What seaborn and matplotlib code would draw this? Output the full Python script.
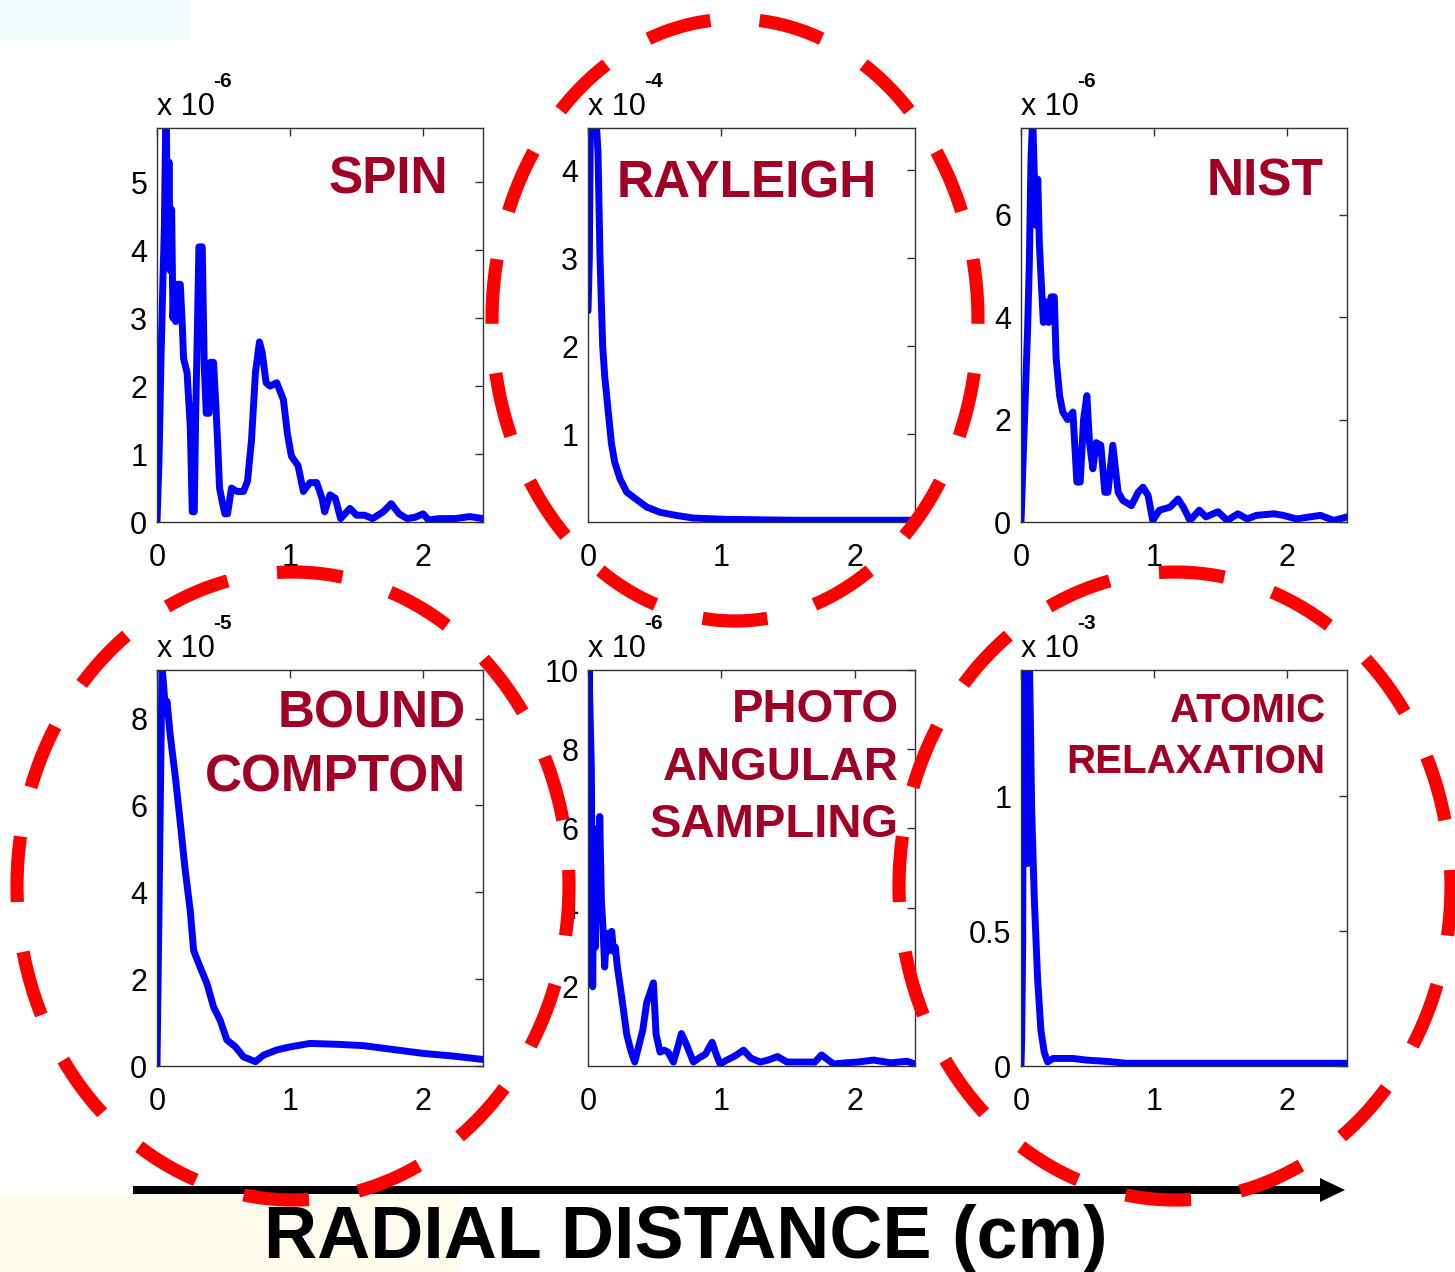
import numpy as np
import pandas as pd
import matplotlib
matplotlib.use("Agg")
import matplotlib.pyplot as plt
import seaborn as sns
from matplotlib.patches import Rectangle, FancyArrow

# ---------------- data (scaled by 10^exponent) -------------
x_spin = [0.0, 0.015, 0.03, 0.045, 0.055, 0.065, 0.07, 0.08, 0.09, 0.1, 0.11, 0.12, 0.13, 0.14, 0.155, 0.175,
          0.19, 0.2, 0.226, 0.25, 0.265, 0.28, 0.29, 0.305, 0.315, 0.34, 0.355, 0.37, 0.39, 0.40, 0.425, 0.44,
          0.455, 0.47, 0.49, 0.51, 0.53, 0.56, 0.6, 0.65, 0.68, 0.71, 0.74, 0.77, 0.79, 0.82, 0.85, 0.9, 0.95,
          0.98, 1.01, 1.06, 1.1, 1.15, 1.2, 1.24, 1.26, 1.3, 1.34, 1.38, 1.45, 1.5, 1.56, 1.62, 1.7, 1.76, 1.82,
          1.88, 1.94, 2.0, 2.04, 2.12, 2.24, 2.35, 2.45]
y_spin = [0.0, 0.9, 2.4, 3.6, 4.3, 5.8, 5.9, 3.8, 5.3, 3.7, 4.6, 3.0, 3.5, 2.95, 3.5, 3.5,
          2.9, 2.4, 2.2, 1.4, 0.15, 0.15, 1.5, 3.0, 4.05, 4.05, 2.3, 1.6, 1.6, 2.35, 2.35, 1.8,
          1.2, 0.5, 0.3, 0.12, 0.12, 0.5, 0.45, 0.45, 0.6, 1.2, 2.2, 2.65, 2.5, 2.05, 2.0, 2.05, 1.8,
          1.3, 0.97, 0.83, 0.45, 0.58, 0.58, 0.35, 0.15, 0.4, 0.35, 0.05, 0.2, 0.1, 0.1, 0.05, 0.15, 0.27, 0.12,
          0.05, 0.07, 0.12, 0.03, 0.05, 0.05, 0.08, 0.05]

x_rayleigh = [0.0, 0.01, 0.02, 0.04, 0.06, 0.075, 0.09, 0.1, 0.11, 0.125, 0.15, 0.175, 0.2, 0.24, 0.29,
              0.36, 0.44, 0.54, 0.66, 0.79, 1.04, 1.54, 2.0, 2.45]
y_rayleigh = [2.4, 3.0, 5.0, 5.2, 4.6, 4.2, 3.0, 2.5, 2.0, 1.66, 1.28, 0.9, 0.68, 0.49, 0.34,
              0.26, 0.17, 0.11, 0.075, 0.045, 0.03, 0.02, 0.02, 0.02]

x_nist = [0.0, 0.025, 0.05, 0.063, 0.075, 0.088, 0.1, 0.113, 0.126, 0.138, 0.15, 0.168, 0.188, 0.208,
          0.226, 0.25, 0.264, 0.29, 0.314, 0.35, 0.39, 0.42, 0.445, 0.47, 0.495, 0.515, 0.54, 0.565, 0.6,
          0.63, 0.653, 0.69, 0.73, 0.766, 0.83, 0.88, 0.917, 0.955, 0.99, 1.04, 1.12, 1.18, 1.22, 1.27,
          1.34, 1.39, 1.48, 1.55, 1.63, 1.7, 1.77, 1.9, 1.97, 2.07, 2.25, 2.35, 2.45]
y_nist = [0.0, 1.9, 3.8, 5.1, 7.1, 7.9, 6.8, 5.8, 6.7, 5.45, 4.8, 3.9, 4.3, 3.9,
          4.4, 4.4, 3.2, 2.47, 2.15, 2.0, 2.15, 0.78, 0.78, 2.0, 2.47, 1.55, 1.04, 1.55, 1.5,
          0.58, 0.58, 1.5, 0.58, 0.42, 0.32, 0.58, 0.68, 0.52, 0.03, 0.23, 0.29, 0.45, 0.29, 0.03,
          0.23, 0.1, 0.2, 0.03, 0.16, 0.06, 0.13, 0.16, 0.13, 0.06, 0.13, 0.03, 0.1]

x_compton = [0.0, 0.0125, 0.025, 0.0375, 0.05, 0.0625, 0.075, 0.1, 0.14, 0.175, 0.21, 0.25, 0.275, 0.325,
             0.375, 0.425, 0.475, 0.525, 0.59, 0.65, 0.74, 0.8, 0.9, 1.0, 1.15, 1.35, 1.55, 1.8, 2.0,
             2.225, 2.45]
y_compton = [0.0, 3.0, 6.1, 9.2, 8.76, 8.2, 8.4, 7.6, 6.6, 5.6, 4.56, 3.57, 2.66, 2.27,
             1.9, 1.36, 1.05, 0.6, 0.44, 0.21, 0.1, 0.25, 0.37, 0.44, 0.52, 0.5, 0.47, 0.37, 0.29,
             0.23, 0.15]

x_photo = [0.0, 0.008, 0.015, 0.025, 0.035, 0.045, 0.055, 0.065, 0.075, 0.088, 0.1, 0.112, 0.125, 0.138,
           0.15, 0.163, 0.178, 0.19, 0.205, 0.22, 0.25, 0.29, 0.32, 0.35, 0.38, 0.41, 0.44, 0.46, 0.49,
           0.51, 0.54, 0.57, 0.6, 0.64, 0.67, 0.7, 0.73, 0.79, 0.83, 0.88, 0.93, 0.96, 0.99, 1.04, 1.1,
           1.165, 1.22, 1.29, 1.35, 1.42, 1.49, 1.57, 1.64, 1.7, 1.75, 1.8, 1.84, 1.93, 2.02, 2.14, 2.27,
           2.39, 2.45]
y_photo = [2.85, 10.0, 9.0, 7.5, 2.0, 6.0, 3.0, 5.5, 3.8, 6.3, 4.2, 3.5, 2.5, 3.35,
           2.9, 3.35, 3.4, 2.9, 3.0, 2.5, 1.8, 0.8, 0.4, 0.1, 0.5, 0.9, 1.6, 1.8, 2.1,
           0.8, 0.35, 0.4, 0.35, 0.1, 0.45, 0.82, 0.6, 0.1, 0.2, 0.3, 0.6, 0.3, 0.05, 0.15, 0.25,
           0.4, 0.2, 0.1, 0.15, 0.24, 0.1, 0.1, 0.1, 0.1, 0.28, 0.15, 0.05, 0.08, 0.1, 0.15, 0.08,
           0.12, 0.05]

x_atomic = [0.0, 0.005, 0.0125, 0.02, 0.035, 0.045, 0.05, 0.06, 0.07, 0.08, 0.1, 0.125, 0.15, 0.175,
            0.2, 0.24, 0.39, 0.49, 0.67, 0.79, 1.2, 1.8, 2.45]
y_atomic = [0.0, 0.1, 0.45, 1.6, 1.8, 1.2, 0.75, 1.6, 1.3, 0.95, 0.62, 0.32, 0.13, 0.05,
            0.015, 0.028, 0.028, 0.022, 0.016, 0.01, 0.01, 0.01, 0.01]

panel_x = [x_spin, x_rayleigh, x_nist, x_compton, x_photo, x_atomic]
panel_y = [y_spin, y_rayleigh, y_nist, y_compton, y_photo, y_atomic]
panel_names = ["SPIN", "RAYLEIGH", "NIST", "BOUND COMPTON", "PHOTO ANGULAR SAMPLING", "ATOMIC RELAXATION"]
title_lines = [["SPIN"], ["RAYLEIGH"], ["NIST"], ["BOUND", "COMPTON"],
               ["PHOTO", "ANGULAR", "SAMPLING"], ["ATOMIC", "RELAXATION"]]
exponents = [-6, -4, -6, -5, -6, -3]
y_max = [5.8, 4.48, 7.7, 9.12, 10.0, 1.467]
y_ticks = [[0, 1, 2, 3, 4, 5], [1, 2, 3, 4], [0, 2, 4, 6], [0, 2, 4, 6, 8], [2, 4, 6, 8, 10], [0, 0.5, 1]]
x_ticks = [0, 1, 2]
x_max = 2.45
x_axis_label = "RADIAL DISTANCE (cm)"

# ---------------- layout / style ----------------
W, H = 1455, 1272
boxes = [(157, 128, 483, 522), (588, 128, 915, 522), (1021, 128, 1347, 522),
         (157, 670, 483, 1066), (588, 670, 915, 1066), (1021, 670, 1347, 1066)]
title_right = [448, 877, 1323, 466, 899, 1325]
title_base = [[193], [197], [196], [727, 792], [722, 780, 837], [722, 773]]
title_size = [37, 37, 37, 37, 34, 29]
title_color = "#A00026"
line_color = "#0000FF"
ring_color = "#FF0000"

sns.set_style("white")
plt.rcParams["font.family"] = ["Liberation Sans", "DejaVu Sans"]
plt.rcParams["text.color"] = "black"

fig = plt.figure(figsize=(W / 100, H / 100), dpi=100)
fig.patch.set_facecolor("white")

# background axes in pixel coordinates (faint tints of the original slide)
bg = fig.add_axes([0, 0, 1, 1], zorder=-1)
bg.set_xlim(0, W); bg.set_ylim(H, 0); bg.axis("off")
bg.add_patch(Rectangle((0, 0), 190, 40, color="#F2FAFB", lw=0))
bg.add_patch(Rectangle((0, 1195), 460, 77, color="#FDFCEE", lw=0))

for i in range(6):
    l, t, r, b = boxes[i]
    ax = fig.add_axes([l / W, 1 - b / H, (r - l) / W, (b - t) / H], zorder=1)
    n = min(len(panel_x[i]), len(panel_y[i]))
    df = pd.DataFrame({"x": panel_x[i][:n], "y": panel_y[i][:n]})
    sns.lineplot(data=df, x="x", y="y", ax=ax, color=line_color, linewidth=5,
                 sort=False, estimator=None)
    ax.set_xlim(0, x_max)
    ax.set_ylim(0, y_max[i])
    ax.set_xticks(x_ticks)
    ax.set_xticklabels([f"{v:g}" for v in x_ticks])
    ax.set_yticks(y_ticks[i])
    ax.set_yticklabels([f"{v:g}" for v in y_ticks[i]])
    ax.set_xlabel(""); ax.set_ylabel("")
    ax.tick_params(direction="in", length=6, width=1, top=True, right=True,
                   labelsize=22, colors="#333333", labelcolor="black")
    ax.tick_params(axis="x", pad=15)
    ax.tick_params(axis="y", pad=7)
    for sp in ax.spines.values():
        sp.set_color("#333333"); sp.set_linewidth(1.0); sp.set_visible(True)

# overlay in pixel coordinates for annotations
ov = fig.add_axes([0, 0, 1, 1], zorder=5)
ov.set_xlim(0, W); ov.set_ylim(H, 0); ov.axis("off")
ov.patch.set_alpha(0)

for i in range(6):
    l, t, r, b = boxes[i]
    ov.text(l, t - 13, "x 10", fontsize=22, ha="left", va="baseline", color="black")
    ov.text(l + 56, t - 41, f"{exponents[i]}", fontsize=15, fontweight="bold", ha="left",
            va="baseline", color="black")
    for line, yb in zip(title_lines[i], title_base[i]):
        ov.text(title_right[i], yb, line, fontsize=title_size[i], fontweight="bold",
                color=title_color, ha="right", va="baseline")

# arrow and axis label
ov.add_patch(FancyArrow(133, 1190, 1212, 0, width=8, head_width=24, head_length=25,
                        length_includes_head=True, color="black", lw=0, zorder=2))
ov.text(686, 1258, x_axis_label, fontsize=53, fontweight="bold", ha="center", va="baseline",
        color="black", zorder=2)


def dashed_ring(cx, cy, rx, ry, n, t_ref, ref_is_gap=False, frac=0.57, lw=9.5):
    t = np.linspace(0, 2 * np.pi, 8001)
    px = cx + rx * np.cos(t)
    py = cy - ry * np.sin(t)
    s = np.concatenate([[0], np.cumsum(np.hypot(np.diff(px), np.diff(py)))])
    period = s[-1] / n
    on = frac * period
    s_ref = np.interp(np.deg2rad(t_ref), t, s)
    if ref_is_gap:
        s_ref += period / 2
    mask = ((s - s_ref + on / 2) % period) < on
    edges = np.flatnonzero(np.diff(np.concatenate([[0], mask.astype(int), [0]])))
    for a, bb in zip(edges[::2], edges[1::2]):
        ov.plot(px[a:bb], py[a:bb], color=ring_color, lw=lw, solid_capstyle="butt", zorder=4)


dashed_ring(735, 320, 243, 301, 15, 90, ref_is_gap=True)
dashed_ring(293, 886, 276, 314, 16, 86.5)
dashed_ring(1175, 886, 276, 314, 16, 86.5)

fig.savefig("out.png", dpi=100)
